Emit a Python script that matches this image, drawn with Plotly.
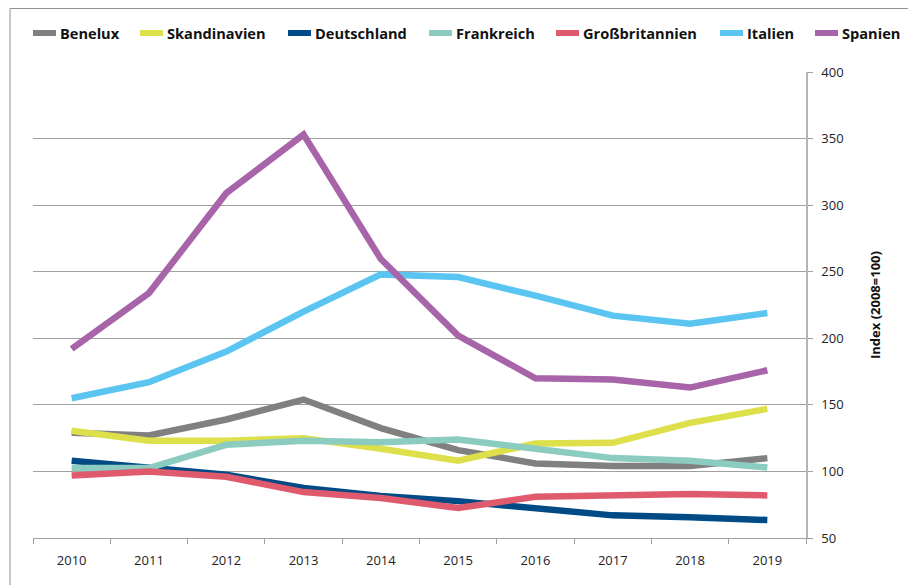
import plotly.graph_objects as go

years = ["2010", "2011", "2012", "2013", "2014", "2015", "2016", "2017", "2018", "2019"]

benelux = [129, 127, 139, 154, 132.5, 116, 106, 104, 104, 110]
skandinavien = [130.5, 123, 123, 125, 117, 108, 121, 121.5, 136.5, 147]
deutschland = [108, 103, 97.5, 87.5, 81.5, 77.7, 72.4, 67, 65.5, 63.5]
frankreich = [102.5, 102.5, 120, 123, 122, 124, 117, 110, 108, 103]
grossbritannien = [97, 100, 96, 84.5, 80, 72.5, 81, 82, 83, 82]
italien = [155, 167, 190, 220, 248, 246, 232, 217, 211, 219]
spanien = [192, 234, 309, 353, 259.5, 202, 170, 169, 163, 176]

names = ["Benelux", "Skandinavien", "Deutschland", "Frankreich", "Großbritannien", "Italien", "Spanien"]
values = [benelux, skandinavien, deutschland, frankreich, grossbritannien, italien, spanien]
colors = ["#808080", "#dde04a", "#004a85", "#8bcbc0", "#e05a6e", "#5bc5f2", "#a864a8"]
legend_x = [30, 137, 285, 426, 553, 717, 812]  # legend entry starts (page px)

fig = go.Figure()
for name, vals, col in zip(names, values, colors):
    fig.add_trace(go.Scatter(
        x=years, y=vals, name=name, mode="lines",
        line=dict(color=col, width=6.5), showlegend=False,
    ))

OFF = 8  # default body margin of the page
W, H = 916, 585
ml, mt = 33 - OFF, 72 - OFF
pw, ph = 773, 466
mr = W - ml - pw
mb = H - mt - ph

def px(xp):
    return (xp - OFF - ml) / pw

def py(yp):
    return (mt + ph - (yp - OFF)) / ph

shapes = [
    dict(type="rect", xref="paper", yref="paper",
         x0=px(10), x1=px(940), y0=py(620), y1=(mt + ph - 0.5) / ph,
         line=dict(color="#909090", width=1), fillcolor="rgba(0,0,0,0)", layer="below"),
]
annotations = []
for name, col, lx in zip(names, colors, legend_x):
    shapes.append(dict(type="line", xref="paper", yref="paper",
                       x0=px(lx + 3), x1=px(lx + 26), y0=py(33), y1=py(33),
                       line=dict(color=col, width=6)))
    annotations.append(dict(xref="paper", yref="paper", x=px(lx + 28), y=py(33),
                            xanchor="left", yanchor="middle", showarrow=False,
                            text="<b>" + name + "</b>",
                            font=dict(family="Open Sans", size=14.6, color="#111")))

fig.update_layout(
    width=W, height=H,
    margin=dict(l=ml, r=mr, t=mt, b=mb, autoexpand=False),
    paper_bgcolor="white", plot_bgcolor="white",
    font=dict(family="Open Sans", size=13, color="#222"),
    showlegend=False,
    xaxis=dict(
        type="category", range=[-0.5, 9.5], tickson="boundaries",
        ticks="outside", ticklen=5, tickcolor="#a0a0a0",
        showline=True, linecolor="#a0a0a0", linewidth=1,
        showgrid=False, zeroline=False,
        ticklabelstandoff=10,
        tickfont=dict(size=13, color="#222"),
    ),
    yaxis=dict(
        side="right", range=[50, 400], tickvals=[50, 100, 150, 200, 250, 300, 350, 400],
        ticks="outside", ticklen=5, tickcolor="#a0a0a0",
        showline=True, linecolor="#b4b4b4", linewidth=1.5,
        showgrid=True, gridcolor="#a0a0a0", gridwidth=1,
        zeroline=False,
        ticklabelstandoff=6,
        tickfont=dict(size=13, color="#222"),
        title=dict(text="Index (2008=100)", font=dict(size=13, color="#111", weight="bold"),
                   standoff=28),
    ),
    shapes=shapes,
    annotations=annotations,
)

fig.write_html("out.html")
